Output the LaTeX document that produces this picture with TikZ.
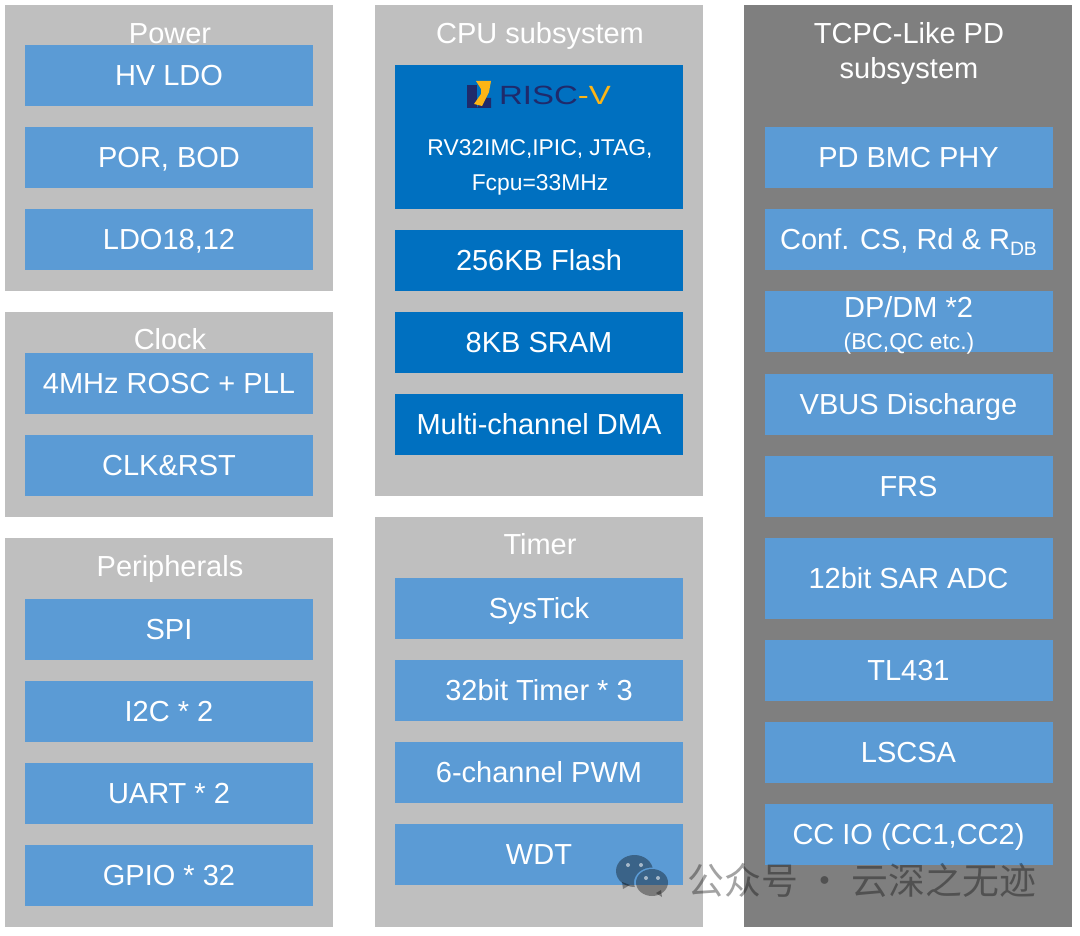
\documentclass[tikz,border=0pt]{standalone}
\usepackage{xcolor}
\usepackage{graphicx}
\usepackage{fontspec}
\setmainfont{Liberation Sans}
\newfontfamily\cjkfont{Noto Sans CJK SC}
\usetikzlibrary{positioning}

\definecolor{panelLight}{HTML}{BFBFBF}
\definecolor{panelDark}{HTML}{7F7F7F}
\definecolor{blockBlue}{HTML}{5B9BD5}
\definecolor{blockDeep}{HTML}{0070C0}
\definecolor{riscNavy}{HTML}{1F2A6B}
\definecolor{riscGold}{HTML}{FDB515}

\begin{document}
\begin{tikzpicture}[
    x=0.02cm, y=-0.02cm,
    % ── panels ──
    lightPanel/.style = {fill=panelLight},
    darkPanel/.style  = {fill=panelDark},
    % ── blocks ──
    block/.style      = {fill=blockBlue, text=white, inner sep=0pt,
                         minimum width=288*0.02cm, minimum height=61*0.02cm,
                         text height=14pt, text depth=2.2pt,
                         font=\fontsize{16.5}{20}\selectfont},
    deepBlock/.style  = {block, fill=blockDeep},
    % ── text styles ──
    panelTitle/.style = {text=white, inner sep=0pt,
                         text height=14pt, text depth=2.2pt,
                         font=\fontsize{16.5}{20}\selectfont},
    smallLabel/.style = {text=white, inner sep=0pt,
                         text height=11pt, text depth=1.7pt,
                         font=\fontsize{13}{16}\selectfont},
    % ── watermark ──
    markInk/.style    = {fill=black, fill opacity=0.36},
]

\useasboundingbox (0,0) rectangle (1080,936);
\fill[white] (0,0) rectangle (1080,936);

% =====================================================================
% Panels
% =====================================================================
\fill[lightPanel] (5,5) rectangle (333,291);
\fill[lightPanel] (5,312) rectangle (333,517);
\fill[lightPanel] (5,538) rectangle (333,927);
\fill[lightPanel] (375,5) rectangle (703,496);
\fill[lightPanel] (375,517) rectangle (703,927);
\fill[darkPanel]  (744,5) rectangle (1072,927);

% =====================================================================
% Power   (centre x = 169)
% =====================================================================
\node[panelTitle] (powerTitle) at (170,33) {Power};
\node[block] (hvldo)  at (169,75.5)  {HV LDO};
\node[block] (porbod) at (169,157.5) {POR, BOD};
\node[block] (ldo)    at (169,239.5) {LDO18,12};

% =====================================================================
% Clock
% =====================================================================
\node[panelTitle] (clockTitle) at (170,339) {Clock};
\node[block] (rosc)   at (169,383.5) {4MHz ROSC + PLL};
\node[block] (clkrst) at (169,465.5) {CLK\&RST};

% =====================================================================
% Peripherals
% =====================================================================
\node[panelTitle] (periTitle) at (170,566) {Peripherals};
\node[block] (spi)  at (169,629.5) {SPI};
\node[block] (itwoc) at (169,711.5) {I2C * 2};
\node[block] (uart) at (169,793.5) {UART * 2};
\node[block] (gpio) at (169,875.5) {GPIO * 32};

% =====================================================================
% CPU subsystem   (centre x = 539)
% =====================================================================
\node[panelTitle] (cpuTitle) at (540,33) {CPU subsystem};
\node[deepBlock, minimum height=144*0.02cm] (riscv) at (539,137) {};

% logo mark
\fill[riscNavy] (467,85) rectangle (477,108);
\fill[riscNavy] (482,98) -- (491,98) -- (491,108) -- (477,108) -- cycle;
\fill[riscGold] (476,81) -- (491,81) -- (489,92) -- (482,106) -- (474,104)
  -- (481,94) -- (481,89) -- cycle;
\node[inner sep=0pt, font=\fontsize{15}{18}\selectfont] (riscName) at (555,95)
  {\scalebox{1.25}[1]{\textcolor{riscNavy}{RISC}\textcolor{riscGold}{-V}}};

\node[smallLabel] (riscIsa)  at (540,147) {RV32IMC,IPIC, JTAG,};
\node[smallLabel] (riscFreq) at (540,182) {Fcpu=33MHz};

\node[deepBlock] (flash) at (539,260.5) {256KB Flash};
\node[deepBlock] (sram)  at (539,342.5) {8KB SRAM};
\node[deepBlock] (dma)   at (539,424.5) {Multi-channel DMA};

% =====================================================================
% Timer
% =====================================================================
\node[panelTitle] (timerTitle) at (540,544) {Timer};
\node[block] (systick) at (539,608.5) {SysTick};
\node[block] (timer)   at (539,690.5) {32bit Timer * 3};
\node[block] (pwm)     at (539,772.5) {6-channel PWM};
\node[block] (wdt)     at (539,854.5) {WDT};

% =====================================================================
% TCPC-Like PD subsystem   (centre x = 908.5)
% =====================================================================
\node[panelTitle] (pdTitle) at (909,33) {TCPC-Like PD};
\node[panelTitle] (pdTitleB) at (909,68) {subsystem};
\node[block] (bmc)  at (908.5,157.5) {PD BMC PHY};
\node[block] (conf) at (908.5,239.5)
  {Conf. CS, Rd \& R\raisebox{-0.35ex}{\fontsize{11}{13}\selectfont DB}};
\node[block] (dpdm) at (908.5,321.5) {};
\node[panelTitle] (dpdmName) at (908.5,307) {DP/DM *2};
\node[smallLabel] (dpdmNote) at (909,341) {(BC,QC etc.)};
\node[block] (vbus) at (908.5,404.5) {VBUS Discharge};
\node[block] (frs)  at (908.5,486.5) {FRS};
\node[block, minimum height=81*0.02cm] (adc) at (908.5,578.5) {12bit SAR ADC};
\node[block] (tl)   at (908.5,670.5) {TL431};
\node[block] (lscsa) at (908.5,752.5) {LSCSA};
\node[block] (ccio) at (908.5,834.5) {CC IO (CC1,CC2)};

% =====================================================================
% Watermark
% =====================================================================
\begin{scope}[even odd rule]
  \clip (600,840) rectangle (690,910)
    (652,882.5) ellipse (18 and 15);
  \fill[markInk] (634.5,871) ellipse (18.5 and 16);
  \fill[markInk] (622,882) -- (623,889) -- (630,885) -- cycle;
\end{scope}
\fill[markInk] (652,882.5) ellipse (16 and 13.5);
\fill[markInk] (656,893) -- (662,897) -- (661,890) -- cycle;
\foreach \cx/\cy in {628/865, 641/865, 646/878, 658/878}{
  \fill[white, fill opacity=0.55] (\cx,\cy) circle (2);
}
\node[inner sep=0pt, text=black, text opacity=0.36,
      font=\cjkfont\fontsize{21}{25}\selectfont] (markText) at (862,880)
  {公众号 · 云深之无迹};

\end{tikzpicture}
\end{document}
